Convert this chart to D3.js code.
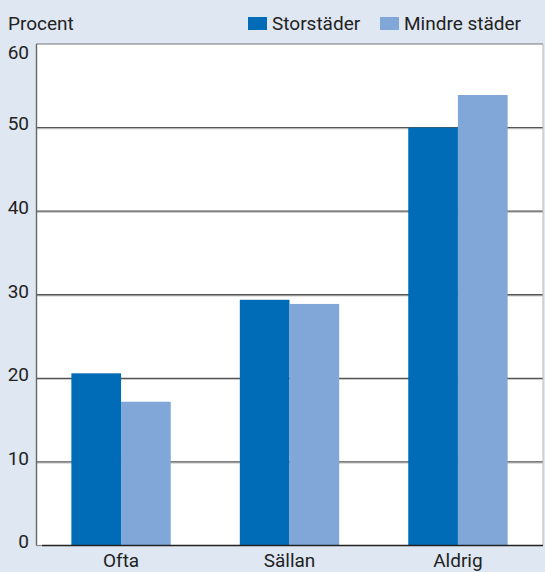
<!DOCTYPE html>
<html>
<head>
<meta charset="utf-8">
<script src="https://cdn.jsdelivr.net/npm/d3@7"></script>
<style>
  html, body { margin: 0; padding: 0; background: #dfe7f2; }
  svg text { font-family: Roboto, "DejaVu Sans", sans-serif; fill: #222; }
</style>
</head>
<body>
<svg id="chart" width="545" height="572"></svg>
<script>
// Andel per kategori (procent)
const categories = ["Ofta", "Sällan", "Aldrig"];
const seriesNames = ["Storstäder", "Mindre städer"];
const storstader = [20.6, 29.4, 50.0];
const mindreStader = [17.2, 28.9, 53.9];
const yTicks = [0, 10, 20, 30, 40, 50, 60];
const colors = ["#006cb7", "#80a7d8"];

const svg = d3.select("#chart");
const W = 545, H = 572;
const margin = { left: 36, right: 2, top: 44, bottom: 26.5 };
const innerW = W - margin.left - margin.right;
const innerH = H - margin.top - margin.bottom;
const fontSize = 19;

svg.append("rect").attr("width", W).attr("height", H).attr("fill", "#dfe7f2");

const g = svg.append("g").attr("transform", `translate(${margin.left},${margin.top})`);

const x = d3.scaleBand().domain(categories).range([0, innerW]).paddingInner(0.41).paddingOuter(0.21);
const xs = d3.scaleBand().domain(seriesNames).range([0, x.bandwidth()]);
const y = d3.scaleLinear().domain([0, 60]).range([innerH, 0]);

// plot background
g.append("rect").attr("width", innerW).attr("height", innerH).attr("fill", "#fff");

// gridlines
const grid = g.append("g");
yTicks.filter(t => t > 0 && t < 60).forEach(t => {
  grid.append("line").attr("x1", 0).attr("x2", innerW)
    .attr("y1", y(t) + 1.2).attr("y2", y(t) + 1.2).attr("stroke", "#c8c8c8").attr("stroke-width", 1);
  grid.append("line").attr("x1", 0).attr("x2", innerW)
    .attr("y1", y(t)).attr("y2", y(t)).attr("stroke", "#555").attr("stroke-width", 1.4);
});

// bars
const data = categories.map((c, i) => ({ cat: c, vals: [storstader[i], mindreStader[i]] }));
const groups = g.selectAll(".grp").data(data).join("g")
  .attr("transform", d => `translate(${x(d.cat)},0)`);
groups.selectAll("rect").data(d => d.vals.map((v, j) => ({ s: seriesNames[j], v, j })))
  .join("rect")
  .attr("x", d => xs(d.s)).attr("width", xs.bandwidth())
  .attr("y", d => y(d.v)).attr("height", d => innerH - y(d.v))
  .attr("fill", d => colors[d.j]);

// frame
g.append("line").attr("x1", 0).attr("x2", innerW).attr("y1", 0).attr("y2", 0).attr("stroke", "#777").attr("stroke-width", 1.2);
g.append("line").attr("x1", 0.5).attr("x2", 0.5).attr("y1", 0).attr("y2", innerH).attr("stroke", "#666").attr("stroke-width", 1.4);
g.append("line").attr("x1", innerW).attr("x2", innerW).attr("y1", 0).attr("y2", innerH).attr("stroke", "#bbb").attr("stroke-width", 1);
g.append("line").attr("x1", 0).attr("x2", 6).attr("y1", innerH).attr("y2", innerH).attr("stroke", "#888").attr("stroke-width", 1.2);
g.append("line").attr("x1", 6).attr("x2", innerW).attr("y1", innerH).attr("y2", innerH).attr("stroke", "#222").attr("stroke-width", 1.6);

// y tick labels
const yAxis = d3.axisLeft(y).tickValues(yTicks).tickSize(0).tickPadding(7);
const ya = g.append("g").call(yAxis);
ya.select(".domain").remove();
ya.selectAll("text").attr("font-size", fontSize).attr("font-family", "Roboto, sans-serif").attr("fill", "#222")
  .attr("dy", d => d === 60 ? "0.75em" : "0.12em");

// x labels
const xAxis = d3.axisBottom(x).tickSize(0).tickPadding(8);
const xa = g.append("g").attr("transform", `translate(0,${innerH})`).call(xAxis);
xa.select(".domain").remove();
xa.selectAll("text").attr("font-size", fontSize).attr("font-family", "Roboto, sans-serif").attr("fill", "#222");

// title
svg.append("text").attr("x", 8).attr("y", 30).attr("font-size", fontSize).text("Procent");

// legend
const legX = [248, 380];
seriesNames.forEach((s, i) => {
  svg.append("rect").attr("x", legX[i]).attr("y", 17).attr("width", 19).attr("height", 13).attr("fill", colors[i]);
  svg.append("text").attr("x", legX[i] + 24).attr("y", 29.5).attr("font-size", fontSize).text(s);
});
</script>
</body>
</html>
